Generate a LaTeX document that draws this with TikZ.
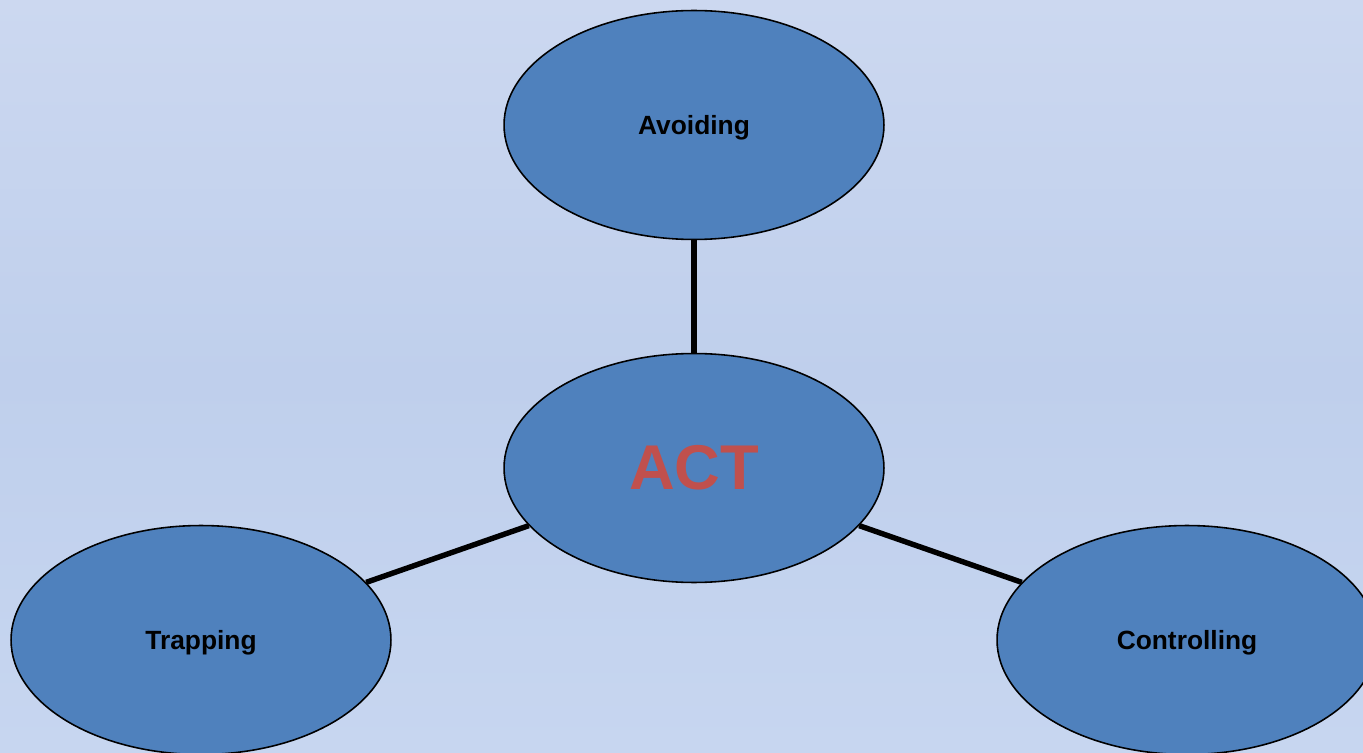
\documentclass[tikz,border=0pt]{standalone}
\usepackage{fontspec}
\setmainfont{Liberation Sans}
\usetikzlibrary{shapes.geometric}
\usetikzlibrary{positioning}
\definecolor{bgtop}{HTML}{CCD8F0}
\definecolor{bgmid}{HTML}{BFCFEC}
\definecolor{bgbot}{HTML}{C7D6F0}
\definecolor{blobblue}{HTML}{4F81BD}
\definecolor{actred}{HTML}{C0504D}
\begin{document}
\begin{tikzpicture}[x=0.02cm,y=-0.02cm,
    blob/.style={ellipse, draw=black, line width=0.9pt, fill=blobblue,
        minimum width=7.6cm, minimum height=4.58cm, inner sep=0pt, text depth=0pt,
        font=\fontsize{15}{17}\selectfont\bfseries},
    link/.style={line width=3.1pt, black}]
\useasboundingbox (0,0) rectangle (1363,753);
\shade[top color=bgtop, bottom color=bgbot, middle color=bgmid] (0,0) rectangle (1363,753);
\clip (0,0) rectangle (1363,753);

\node[blob] (act) at (694,468) {};
\node[font=\fontsize{36}{40}\selectfont\bfseries, text=actred] at (act) {ACT};
\node[blob] (avoid) at (694,125) {Avoiding};
\node[blob] (trap) at (201,640) {Trapping};
\node[blob] (control) at (1187,640) {Controlling};

\draw[link] (avoid) -- (act);
\draw[link] (act) -- (trap);
\draw[link] (act) -- (control);
\end{tikzpicture}
\end{document}
